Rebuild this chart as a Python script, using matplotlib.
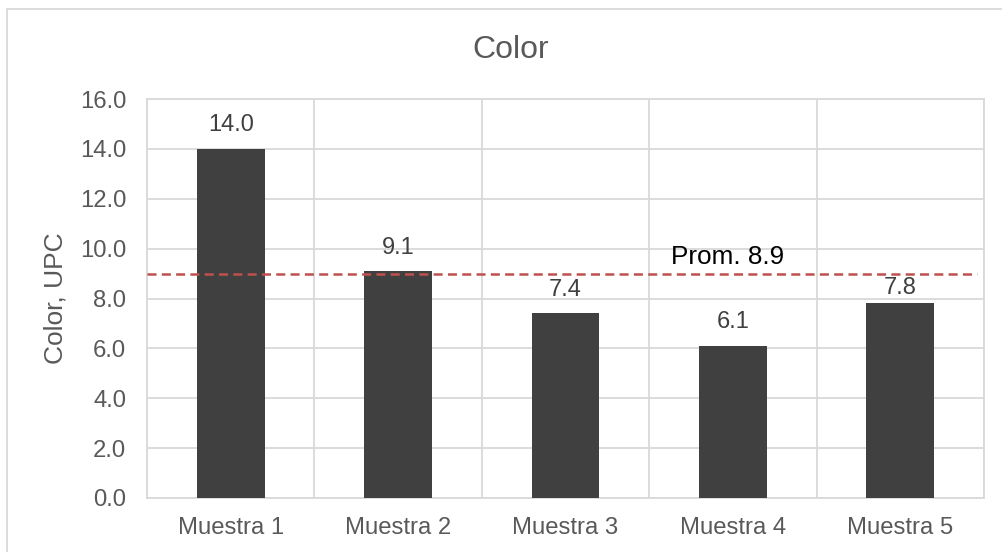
import matplotlib
matplotlib.use("Agg")
import matplotlib.pyplot as plt
from matplotlib.patches import Rectangle
import numpy as np

categorias = ["Muestra 1", "Muestra 2", "Muestra 3", "Muestra 4", "Muestra 5"]
valores = [14.0, 9.1, 7.4, 6.1, 7.8]
promedio_texto = 8.9
promedio_linea = 9.0
y_ticks = [0, 2, 4, 6, 8, 10, 12, 14, 16]

# label offsets (points) - style only
label_offset = [9, 9, 9, 9, 3]

plt.rcParams['font.family'] = ['Liberation Sans', 'DejaVu Sans']
plt.rcParams['lines.scale_dashes'] = False

fig = plt.figure(figsize=(10.02, 5.52), dpi=100)
ax = fig.add_axes([147/1002, 1-498/552, (984-147)/1002, (498-99)/552])

grid_c = "#D9D9D9"
x = np.arange(len(categorias))
ax.bar(x, valores, width=0.406, color="#404040", zorder=3)

ax.set_xlim(-0.5, len(categorias)-0.5)
ax.set_ylim(0, 16)
ax.set_yticks(y_ticks)
ax.set_yticklabels([f"{v:.1f}" for v in y_ticks])
ax.set_xticks(x)
ax.set_xticklabels(categorias)
ax.set_xticks(np.arange(len(categorias)+1)-0.5, minor=True)

ax.grid(axis='y', which='major', color=grid_c, linewidth=1.3, zorder=0)
ax.grid(axis='x', which='minor', color=grid_c, linewidth=1.3, zorder=0)
ax.tick_params(axis='both', which='both', length=0, labelsize=17.2, labelcolor="#595959")
ax.tick_params(axis='y', pad=15)
ax.tick_params(axis='x', pad=14)
for s in ax.spines.values():
    s.set_color(grid_c)
    s.set_linewidth(1.3)

for xi, v, off in zip(x, valores, label_offset):
    ax.annotate(f"{v:.1f}", (xi, v), xytext=(0, off), textcoords='offset points',
                ha='center', va='bottom', fontsize=17, color="#404040", zorder=4)

ax.plot([-0.5, len(categorias)-0.54], [promedio_linea, promedio_linea], color="#C0504D",
        linewidth=1.8, dashes=(6.5, 3.8), zorder=5, dash_capstyle='butt')
ax.annotate(f"Prom. {promedio_texto}", (2.97, promedio_linea), xytext=(0, 3.5),
            textcoords='offset points', ha='center', va='bottom', fontsize=18.8, color="black", zorder=6)

ax.set_ylabel("Color, UPC", fontsize=19, color="#595959")
ax.yaxis.set_label_coords((68-147)/(984-147), 0.5)

fig.text(511/1002, 1-50/552, "Color", ha='center', va='center', fontsize=23, color="#595959")

fig.patches.append(Rectangle((7/1002, -0.1), 1.2, 1-9/552+0.1, transform=fig.transFigure,
                             fill=False, edgecolor=grid_c, linewidth=1.3))

fig.savefig("out.png", dpi=100)
